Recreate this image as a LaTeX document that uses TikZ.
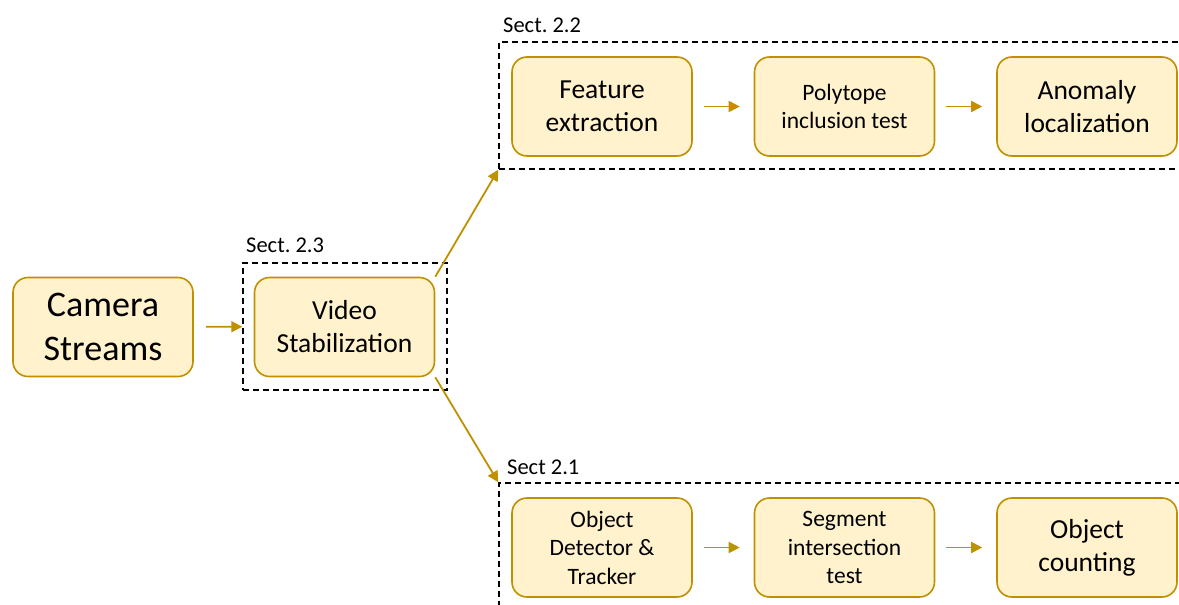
\documentclass[tikz,border=0pt]{standalone}
\usepackage{fontspec}
\setmainfont{Carlito}
\usetikzlibrary{arrows.meta}
\definecolor{gold}{RGB}{191,144,0}
\definecolor{cream}{RGB}{255,242,204}
\frenchspacing
\tikzset{
  blk/.style={draw=gold, fill=cream, line width=1.6pt, rounded corners=15pt,
    minimum width=180pt, minimum height=99pt, align=center, inner sep=0pt},
  big/.style={font=\fontsize{36}{44}\selectfont},
  mid/.style={font=\fontsize{27.5}{33}\selectfont},
  sml/.style={font=\fontsize{23.5}{28.5}\selectfont},
  dashbox/.style={draw=black, dash pattern=on 6pt off 4pt, line width=1.4pt, inner sep=0pt},
  arr/.style={draw=gold, line width=1.8pt, -{Triangle[length=11pt,width=11pt]}},
  sect/.style={font=\fontsize{22.5}{26}\selectfont, anchor=base west, inner sep=0pt}
}
\begin{document}
\begin{tikzpicture}[x=1pt,y=-1pt]
\useasboundingbox (0,0) rectangle (1179,605);
\clip (0,0) rectangle (1179,605);
% dashed groups
\node[dashbox, minimum width=204pt, minimum height=127pt] (s23) at (345,326.5) {};
\node[dashbox, minimum width=691pt, minimum height=127pt] (s22) at (844.5,105.5) {};
\node[dashbox, minimum width=691pt, minimum height=140pt] (s21) at (844.5,553) {};
\node[sect] (l23) at (246,252) {Sect. 2.3};
\node[sect] (l22) at (503,32) {Sect. 2.2};
\node[sect] (l21) at (507,474) {Sect 2.1};
% blocks
\node[blk, big] (cam) at (103,327) {Camera\\Streams};
\node[blk, mid] (vid) at (344.5,327) {Video\\Stabilization};
\node[blk, mid] (fe) at (602,106.5) {Feature\\extraction};
\node[blk, sml] (pt) at (844.5,106.5) {Polytope\\inclusion test};
\node[blk, mid] (an) at (1087,106.5) {Anomaly\\localization};
\node[blk, sml] (od) at (602,547.5) {Object\\Detector \&\\Tracker};
\node[blk, sml] (si) at (844.5,547.5) {Segment\\intersection\\test};
\node[blk, mid] (oc) at (1087,547.5) {Object\\counting};
% connectors
\draw[arr, shorten <=12pt] (cam) -- (s23);
\draw[arr] (vid.north east) -- (s22.south west);
\draw[arr] (vid.south east) -- (s21.north west);
\draw[arr, shorten <=11pt, shorten >=14pt] (fe) -- (pt);
\draw[arr, shorten <=11pt, shorten >=14pt] (pt) -- (an);
\draw[arr, shorten <=11pt, shorten >=14pt] (od) -- (si);
\draw[arr, shorten <=11pt, shorten >=14pt] (si) -- (oc);
\end{tikzpicture}
\end{document}
